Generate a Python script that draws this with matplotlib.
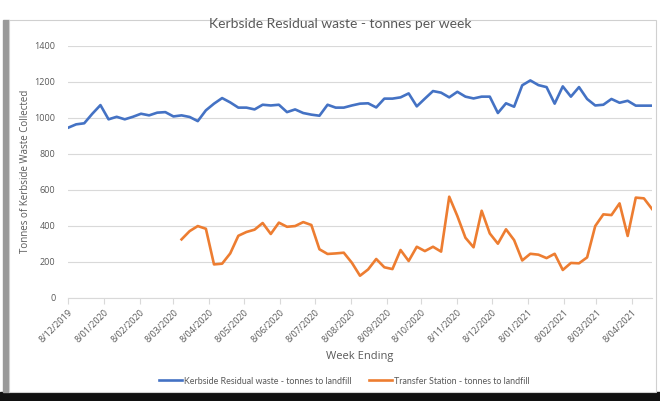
import pandas as pd
import matplotlib.pyplot as plt
from matplotlib.patches import Rectangle

# weekly tonnes, week ending dates start 8/12/2019
kerbside = [944, 963, 969, 1022, 1070, 991, 1005, 991, 1005, 1022,
            1013, 1028, 1031, 1007, 1013, 1004, 981, 1041, 1078, 1109,
            1085, 1056, 1056, 1046, 1072, 1068, 1072, 1031, 1046, 1026,
            1017, 1011, 1072, 1056, 1056, 1068, 1078, 1080, 1057, 1106,
            1106, 1113, 1135, 1063, 1106, 1148, 1139, 1113, 1144, 1117,
            1107, 1117, 1117, 1026, 1080, 1061, 1180, 1207, 1181, 1170,
            1078, 1174, 1117, 1170, 1104, 1068, 1072, 1104, 1083, 1094,
            1067, 1067, 1067]

# transfer station data only starts mid March 2020
transfer = [324, 370, 398, 383, 185, 189, 246, 344, 365, 378,
            415, 354, 417, 394, 398, 420, 404, 269, 243, 246,
            250, 194, 122, 157, 215, 169, 159, 265, 204, 283,
            259, 283, 256, 561, 454, 333, 280, 483, 357, 300,
            380, 320, 207, 244, 239, 220, 244, 154, 193, 191,
            224, 398, 463, 459, 524, 343, 556, 552, 493]

tick_labels = ["8/12/2019", "8/01/2020", "8/02/2020", "8/03/2020", "8/04/2020",
               "8/05/2020", "8/06/2020", "8/07/2020", "8/08/2020", "8/09/2020",
               "8/10/2020", "8/11/2020", "8/12/2020", "8/01/2021", "8/02/2021",
               "8/03/2021", "8/04/2021"]

weeks_k = pd.date_range("2019-12-08", periods=len(kerbside), freq="7D")
weeks_t = pd.date_range("2020-03-15", periods=len(transfer), freq="7D")
tick_dates = pd.to_datetime(tick_labels, format="%d/%m/%Y")

grey = "#595959"
fig = plt.figure(figsize=(6.6, 4.01), dpi=100)
fig.patch.set_facecolor("white")

# screenshot frame bits: shadow on left, dark band at the bottom
fig.patches.append(Rectangle((0, 0), 660, 9, transform=None, color="#111111", zorder=-2))
fig.patches.append(Rectangle((3, 9), 6, 372, transform=None, color="#9a9a9a", zorder=-2))
fig.patches.append(Rectangle((9, 9), 647, 372, transform=None, facecolor="white",
                             edgecolor="#d0d0d0", lw=0.8, zorder=-2))

ax = fig.add_axes([68 / 660, 1 - 297.7 / 401, 584 / 660, 252 / 401])
ax.set_zorder(2)
ax.patch.set_alpha(0)
ax.plot(weeks_k, kerbside, color="#4472C4", lw=1.9,
        label="Kerbside Residual waste - tonnes to landfill")
ax.plot(weeks_t, transfer, color="#ED7D31", lw=1.9,
        label="Transfer Station - tonnes to landfill")

ax.set_xlim(weeks_k[0], weeks_k[-1])
ax.set_ylim(0, 1400)
ax.set_yticks(range(0, 1401, 200))
ax.grid(axis="y", color="#d9d9d9", lw=0.8)
ax.set_axisbelow(True)
ax.set_xticks(tick_dates)
ax.set_xticklabels(tick_labels, rotation=45, ha="right", rotation_mode="anchor",
                   fontsize=6.5, color=grey, family="Open Sans")
for lab in ax.get_yticklabels():
    lab.set_family("Open Sans")
ax.tick_params(axis="y", length=0, labelsize=6.5, labelcolor=grey, pad=9)
ax.tick_params(axis="x", length=4, color="#d9d9d9", pad=3)
for s in ["top", "right", "left"]:
    ax.spines[s].set_visible(False)
ax.spines["bottom"].set_color("#d9d9d9")

ax.set_ylabel("Tonnes of Kerbside Waste Collected", fontsize=7, color=grey, family="Open Sans")
ax.yaxis.set_label_coords(-0.063, 0.5)
ax.set_xlabel("Week Ending", fontsize=8, color=grey, family="Open Sans")
ax.xaxis.set_label_coords(0.5, -0.21)

fig.text(340 / 660, 1 - 24 / 401, "Kerbside Residual waste - tonnes per week",
         ha="center", va="center", fontsize=10, color=grey, family="Lato")

leg = fig.legend(loc="center", bbox_to_anchor=(344 / 660, 1 - 381 / 401), ncol=2,
                 frameon=False, handlelength=2.6, columnspacing=2.0, handletextpad=0.2,
                 prop={"family": "Lato", "size": 6.4})
for t in leg.get_texts():
    t.set_color(grey)

fig.savefig("out.png", dpi=100)
